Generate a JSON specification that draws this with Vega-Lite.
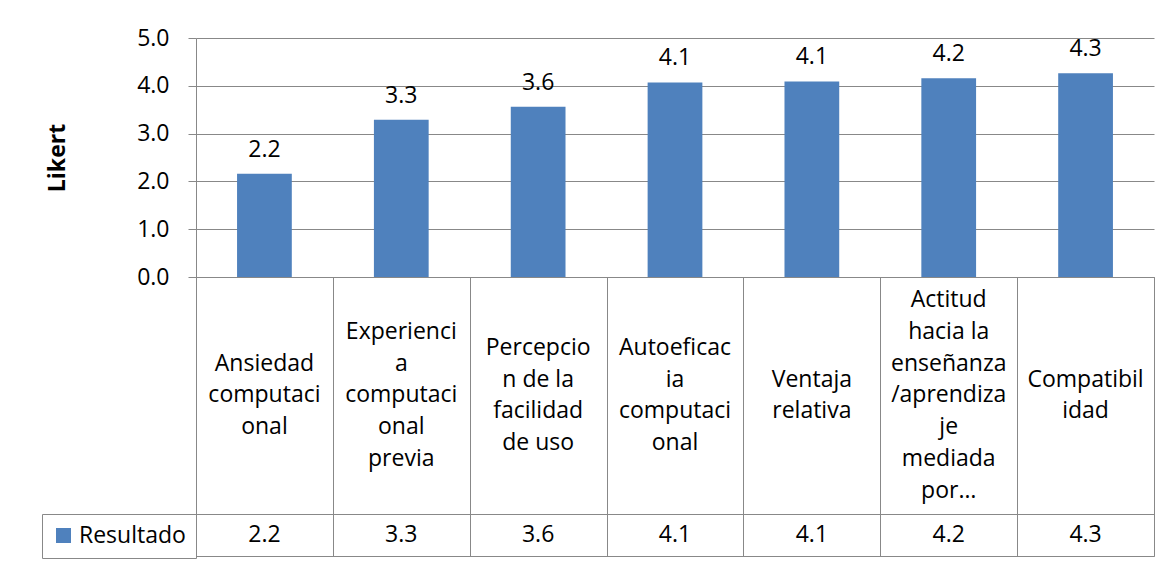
{
  "$schema": "https://vega.github.io/schema/vega-lite/v6.json",
  "background": "white",
  "padding": {"left": 41, "top": 27, "right": 5, "bottom": 5},
  "bounds": "flush",
  "datasets": {
    "resultados": [
      {"categoria": "Ansiedad computacional", "etiqueta": "Ansiedad\ncomputaci\nonal", "valor": 2.16, "serie": "Resultado"},
      {"categoria": "Experiencia computacional previa", "etiqueta": "Experienci\na\ncomputaci\nonal\nprevia", "valor": 3.29, "serie": "Resultado"},
      {"categoria": "Percepcion de la facilidad de uso", "etiqueta": "Percepcio\nn de la\nfacilidad\nde uso", "valor": 3.56, "serie": "Resultado"},
      {"categoria": "Autoeficacia computacional", "etiqueta": "Autoeficac\nia\ncomputaci\nonal", "valor": 4.07, "serie": "Resultado"},
      {"categoria": "Ventaja relativa", "etiqueta": "Ventaja\nrelativa", "valor": 4.09, "serie": "Resultado"},
      {"categoria": "Actitud hacia la enseñanza/aprendizaje mediada por…", "etiqueta": "Actitud\nhacia la\nenseñanza\n/aprendiza\nje\nmediada\npor…", "valor": 4.16, "serie": "Resultado"},
      {"categoria": "Compatibilidad", "etiqueta": "Compatibil\nidad", "valor": 4.26, "serie": "Resultado"}
    ]
  },
  "config": {
    "font": "Open Sans",
    "view": {"stroke": null},
    "text": {"font": "Open Sans", "fontSize": 23, "color": "black"},
    "axis": {"labelFont": "Open Sans", "titleFont": "Open Sans", "labelColor": "black", "titleColor": "black"}
  },
  "spacing": 0,
  "resolve": {"legend": {"color": "independent"}},
  "vconcat": [
    {
      "width": 958,
      "height": 239,
      "data": {"name": "resultados"},
      "encoding": {
        "x": {
          "field": "categoria", "type": "nominal",
          "scale": {"domain": ["Ansiedad computacional", "Experiencia computacional previa", "Percepcion de la facilidad de uso", "Autoeficacia computacional", "Ventaja relativa", "Actitud hacia la enseñanza/aprendizaje mediada por…", "Compatibilidad"], "paddingInner": 0, "paddingOuter": 0},
          "axis": null
        },
        "y": {
          "field": "valor",
          "type": "quantitative",
          "scale": {"domain": [0, 5], "nice": false},
          "axis": {
            "values": [0, 1, 2, 3, 4, 5],
            "format": ".1f",
            "title": "Likert",
            "titleFontSize": 23,
            "titleFontWeight": "bold",
            "titlePadding": 67,
            "labelFontSize": 23,
            "labelPadding": 19,
            "tickSize": 8,
            "tickColor": "#888888",
            "domainColor": "#888888",
            "gridColor": "#888888",
            "gridOpacity": 1,
            "grid": true
          }
        }
      },
      "layer": [
        {"mark": {"type": "bar", "width": {"band": 0.4}, "color": "#4F81BD"}},
        {"mark": {"type": "text", "baseline": "middle", "dy": -24}, "encoding": {"text": {"field": "valor", "format": ".1f"}}}
      ]
    },
    {
      "width": 958,
      "height": 237,
      "view": {"stroke": "#888888"},
      "data": {"name": "resultados"},
      "encoding": {
        "x": {
          "field": "categoria", "type": "nominal",
          "scale": {"domain": ["Ansiedad computacional", "Experiencia computacional previa", "Percepcion de la facilidad de uso", "Autoeficacia computacional", "Ventaja relativa", "Actitud hacia la enseñanza/aprendizaje mediada por…", "Compatibilidad"], "paddingInner": 0, "paddingOuter": 0},
          "axis": {"grid": true, "tickBand": "extent", "labels": false, "ticks": false, "domain": false, "title": null, "gridColor": "#888888", "gridOpacity": 1}
        },
        "text": {"field": "etiqueta"}
      },
      "layer": [
        {"transform": [{"filter": "length(split(datum.etiqueta, '\\n')) == 2"}], "mark": {"type": "text", "lineBreak": "\n", "lineHeight": 31.7, "baseline": "middle", "dy": -15.85}},
        {"transform": [{"filter": "length(split(datum.etiqueta, '\\n')) == 3"}], "mark": {"type": "text", "lineBreak": "\n", "lineHeight": 31.7, "baseline": "middle", "dy": -31.7}},
        {"transform": [{"filter": "length(split(datum.etiqueta, '\\n')) == 4"}], "mark": {"type": "text", "lineBreak": "\n", "lineHeight": 31.7, "baseline": "middle", "dy": -47.55}},
        {"transform": [{"filter": "length(split(datum.etiqueta, '\\n')) == 5"}], "mark": {"type": "text", "lineBreak": "\n", "lineHeight": 31.7, "baseline": "middle", "dy": -63.4}},
        {"transform": [{"filter": "length(split(datum.etiqueta, '\\n')) == 7"}], "mark": {"type": "text", "lineBreak": "\n", "lineHeight": 31.7, "baseline": "middle", "dy": -95.1}}
      ]
    },
    {
      "width": 958,
      "height": 42,
      "view": {"stroke": "#888888"},
      "data": {"name": "resultados"},
      "encoding": {
        "x": {
          "field": "categoria", "type": "nominal",
          "scale": {"domain": ["Ansiedad computacional", "Experiencia computacional previa", "Percepcion de la facilidad de uso", "Autoeficacia computacional", "Ventaja relativa", "Actitud hacia la enseñanza/aprendizaje mediada por…", "Compatibilidad"], "paddingInner": 0, "paddingOuter": 0},
          "axis": {"grid": true, "tickBand": "extent", "labels": false, "ticks": false, "domain": false, "title": null, "gridColor": "#888888", "gridOpacity": 1}
        }
      },
      "layer": [
        {"mark": {"type": "text", "baseline": "middle"}, "encoding": {"text": {"field": "valor", "format": ".1f"}}},
        {
          "mark": {"type": "square", "opacity": 0},
          "encoding": {
            "color": {
              "field": "serie", "type": "nominal",
              "scale": {"range": ["#4F81BD"]},
              "legend": {
                "orient": "left", "offset": 0, "title": null,
                "symbolType": "square", "symbolSize": 225, "symbolOpacity": 1, "symbolStrokeWidth": 0,
                "strokeColor": "#888888", "padding": 10,
                "labelFontSize": 23, "labelFont": "Open Sans", "labelColor": "black", "labelOffset": 4, "labelLimit": 200
              }
            }
          }
        }
      ]
    }
  ]
}
